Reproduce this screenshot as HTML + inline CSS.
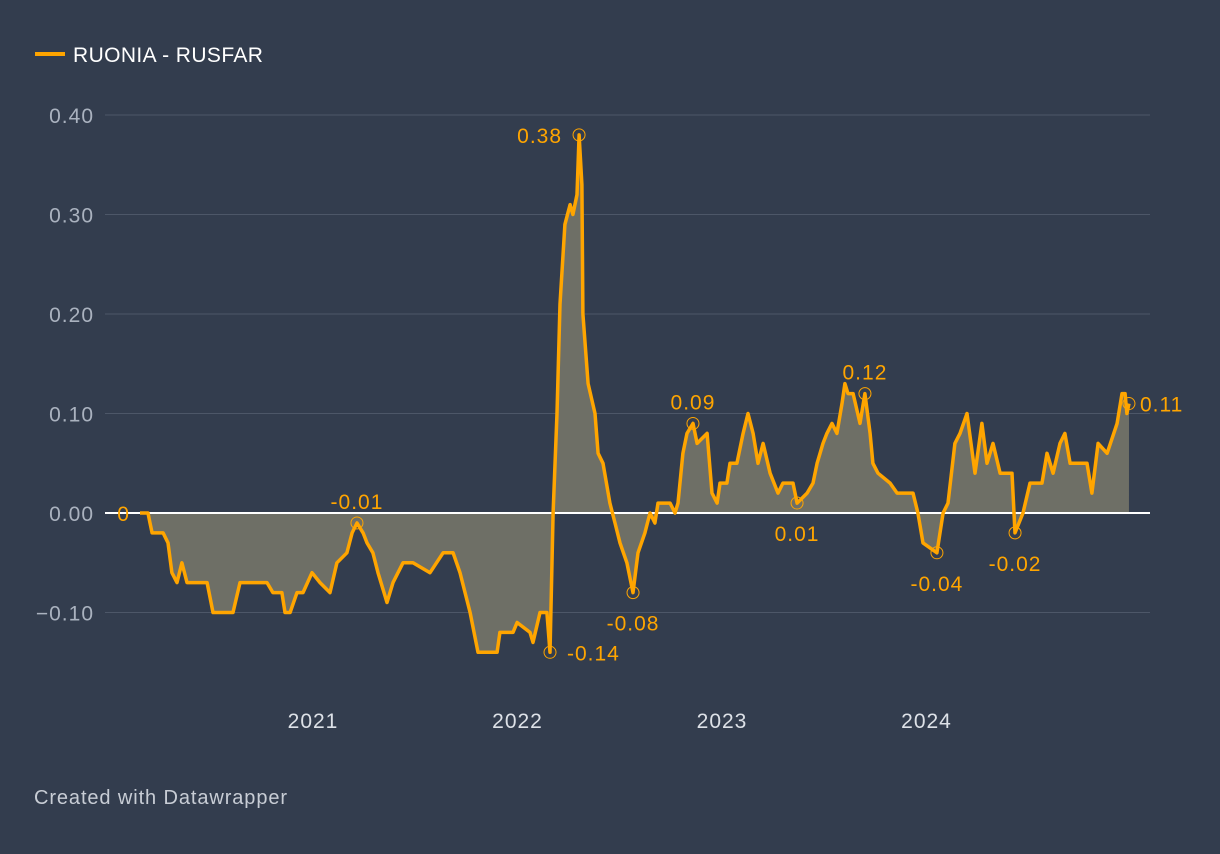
<!DOCTYPE html>
<html><head><meta charset="utf-8"><style>
body{margin:0;background:#333d4e;width:1220px;height:854px;overflow:hidden;font-family:"Liberation Sans",sans-serif}
</style></head><body>
<svg width="1220" height="854" style="position:absolute;left:0;top:0">
<g>
<line x1="35" y1="54" x2="65" y2="54" stroke="#ffa500" stroke-width="4"/>
<text x="73" y="62" fill="#fff" font-size="21" letter-spacing="0.4">RUONIA - RUSFAR</text>
</g>
<g id="grid"></g><g id="area"></g><g id="ann"></g>
<text x="34" y="804" fill="#c8cdd5" font-size="20" letter-spacing="0.9">Created with Datawrapper</text>
</svg>
<script>
const dates=[2020.154,2020.193,2020.203,2020.213,2020.267,2020.291,2020.310,2020.335,2020.359,2020.384,2020.482,2020.511,2020.609,2020.643,2020.775,2020.804,2020.848,2020.863,2020.888,2020.922,2020.951,2020.995,2021.034,2021.083,2021.117,2021.166,2021.191,2021.215,2021.245,2021.264,2021.293,2021.318,2021.362,2021.391,2021.440,2021.489,2021.572,2021.636,2021.685,2021.719,2021.768,2021.807,2021.900,2021.914,2021.978,2021.998,2022.061,2022.076,2022.110,2022.144,2022.159,2022.174,2022.193,2022.208,2022.232,2022.257,2022.271,2022.291,2022.301,2022.315,2022.320,2022.345,2022.379,2022.394,2022.418,2022.452,2022.477,2022.501,2022.535,2022.565,2022.589,2022.623,2022.648,2022.672,2022.687,2022.746,2022.770,2022.785,2022.809,2022.829,2022.858,2022.878,2022.927,2022.951,2022.976,2022.990,2023.024,2023.039,2023.073,2023.103,2023.127,2023.152,2023.176,2023.201,2023.235,2023.274,2023.298,2023.347,2023.367,2023.416,2023.445,2023.465,2023.494,2023.513,2023.538,2023.562,2023.587,2023.601,2023.616,2023.641,2023.675,2023.699,2023.724,2023.738,2023.763,2023.822,2023.856,2023.934,2023.958,2023.983,2024.051,2024.081,2024.105,2024.139,2024.164,2024.198,2024.237,2024.271,2024.296,2024.325,2024.360,2024.418,2024.433,2024.472,2024.506,2024.565,2024.589,2024.619,2024.653,2024.677,2024.702,2024.785,2024.809,2024.839,2024.883,2024.932,2024.956,2024.971,2024.980,2024.990];
const values=[0,0,-0.01,-0.02,-0.02,-0.03,-0.06,-0.07,-0.05,-0.07,-0.07,-0.10,-0.10,-0.07,-0.07,-0.08,-0.08,-0.10,-0.10,-0.08,-0.08,-0.06,-0.07,-0.08,-0.05,-0.04,-0.02,-0.01,-0.02,-0.03,-0.04,-0.06,-0.09,-0.07,-0.05,-0.05,-0.06,-0.04,-0.04,-0.06,-0.10,-0.14,-0.14,-0.12,-0.12,-0.11,-0.12,-0.13,-0.10,-0.10,-0.14,0.0,0.10,0.21,0.29,0.31,0.30,0.32,0.38,0.33,0.20,0.13,0.10,0.06,0.05,0.01,-0.01,-0.03,-0.05,-0.08,-0.04,-0.02,0.0,-0.01,0.01,0.01,0.0,0.01,0.06,0.08,0.09,0.07,0.08,0.02,0.01,0.03,0.03,0.05,0.05,0.08,0.10,0.08,0.05,0.07,0.04,0.02,0.03,0.03,0.01,0.02,0.03,0.05,0.07,0.08,0.09,0.08,0.11,0.13,0.12,0.12,0.09,0.12,0.08,0.05,0.04,0.03,0.02,0.02,0.0,-0.03,-0.04,0.0,0.01,0.07,0.08,0.10,0.04,0.09,0.05,0.07,0.04,0.04,-0.02,0.0,0.03,0.03,0.06,0.04,0.07,0.08,0.05,0.05,0.02,0.07,0.06,0.09,0.12,0.12,0.10,0.11];
const yTicks=[0.4,0.3,0.2,0.1,0,-0.1];
const yTickLabels=["0.40","0.30","0.20","0.10","0.00","\u22120.10"];
const xTicks=[2021,2022,2023,2024];
const annDates=[2020.154,2021.215,2022.301,2022.159,2022.565,2022.858,2023.367,2023.699,2024.051,2024.433,2024.990];
const annValues=[0,-0.01,0.38,-0.14,-0.08,0.09,0.01,0.12,-0.04,-0.02,0.11];
const annLabels=["0","-0.01","0.38","-0.14","-0.08","0.09","0.01","0.12","-0.04","-0.02","0.11"];
const annPos=["left","above","left","right","below","above","below","above","below","below","right"];

const NS="http://www.w3.org/2000/svg";
const X=t=>313+(t-2021)*204.5;
const Y=v=>513-v*995;
function mk(tag,attrs,parent){const e=document.createElementNS(NS,tag);for(const k in attrs)e.setAttribute(k,attrs[k]);parent.appendChild(e);return e;}
const grid=document.getElementById('grid');
yTicks.forEach((v,i)=>{
  if(v!==0){const l=mk('line',{x1:105,x2:1150,y1:Y(v),y2:Y(v),stroke:'#4d5768','stroke-width':1},grid);
  
  }
  const t=mk('text',{x:94,y:Y(v)+8,'text-anchor':'end',fill:'#aab2bf','font-size':21,'letter-spacing':1},grid);
  t.textContent=yTickLabels[i];
  
  
});
xTicks.forEach(t=>{
  const e=mk('text',{x:X(t),y:728,'text-anchor':'middle',fill:'#dde1e7','font-size':21,'letter-spacing':1},grid);
  e.textContent=String(t);
  
  
});
const area=document.getElementById('area');
let d='M'+X(dates[0])+','+Y(0);
dates.forEach((t,i)=>{d+=' L'+X(t).toFixed(1)+','+Y(values[i]).toFixed(1);});
d+=' L'+X(dates[dates.length-1])+','+Y(0)+' Z';
const a=mk('path',{d:d,fill:'#6e6f66'},area);


const z=mk('line',{x1:105,x2:1150,y1:Y(0),y2:Y(0),stroke:'#fff','stroke-width':2},area);


let p='';
dates.forEach((t,i)=>{p+=(i?' L':'M')+X(t).toFixed(1)+','+Y(values[i]).toFixed(1);});
const ln=mk('path',{d:p,fill:'none',stroke:'#ffa500','stroke-width':3.5,'stroke-linejoin':'round'},area);


const ann=document.getElementById('ann');
annDates.forEach((t,i)=>{
  const cx=X(t),cy=Y(annValues[i]);
  if(i>0){const c=mk('circle',{cx:cx,cy:cy,r:6,fill:'none',stroke:'#ffa500','stroke-width':1},ann);
  
  }
  let tx=cx,ty=cy,anc='middle';
  const pos=annPos[i];
  if(pos==='above'){ty=cy-14;}
  else if(pos==='below'){ty=cy+38;}
  else if(pos==='left'){tx=cx-(i===0?10:17);ty=cy+8;anc='end';}
  else {tx=cx+(i===10?11:17);ty=cy+8;anc='start';}
  const e=mk('text',{x:tx,y:ty,'text-anchor':anc,fill:'#ffa500','font-size':21,'letter-spacing':1},ann);
  e.textContent=annLabels[i];
  
  
});
</script>
</body></html>
